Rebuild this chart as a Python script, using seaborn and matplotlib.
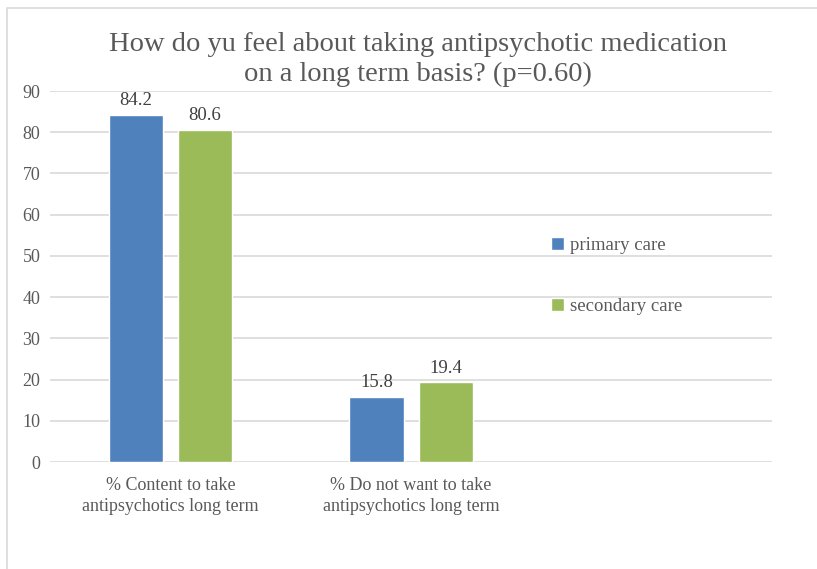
import matplotlib
matplotlib.use("Agg")
import matplotlib.pyplot as plt
import seaborn as sns
import pandas as pd
from matplotlib.patches import Rectangle

categories = ["% Content to take\nantipsychotics long term",
              "% Do not want to take\nantipsychotics long term"]
groups = ["primary care", "secondary care"]
primary_care = [84.2, 15.8]
secondary_care = [80.6, 19.4]
y_ticks = [0, 10, 20, 30, 40, 50, 60, 70, 80, 90]
title = "How do yu feel about taking antipsychotic medication\non a long term basis? (p=0.60)"

df = pd.DataFrame({
    "category": categories * 2,
    "group": [groups[0]] * 2 + [groups[1]] * 2,
    "value": primary_care + secondary_care,
})

sns.set_theme(style="white")
plt.rcParams["font.family"] = ["Liberation Serif", "DejaVu Serif"]
text_color = "#595959"
grid_color = "#D9D9D9"
palette = {"primary care": "#4F81BD", "secondary care": "#9BBB59"}

fig = plt.figure(figsize=(8.17, 5.69), dpi=100)
ax = fig.add_axes([0.0612, 0.188, 0.884, 0.652])

sns.barplot(data=df, x="category", y="value", hue="group", order=categories,
            hue_order=groups, palette=palette, width=0.575, gap=0.217,
            saturation=1, ax=ax, legend=True)

for container in ax.containers:
    ax.bar_label(container, fmt="%.1f", padding=4, fontsize=13.5, color="#404040")

ax.set_xlim(-0.5, 2.5)
ax.set_ylim(0, 90)
ax.set_yticks(y_ticks)
ax.yaxis.grid(True, color=grid_color, linewidth=1.2)
ax.set_axisbelow(True)
for s in ax.spines.values():
    s.set_visible(False)
ax.tick_params(axis="both", length=0, labelsize=13, labelcolor=text_color)
ax.tick_params(axis="y", pad=7)
ax.tick_params(axis="x", pad=11)
for lbl in ax.get_xticklabels():
    lbl.set_linespacing(1.3)
ax.set_xlabel("")
ax.set_ylabel("")

leg = ax.legend(loc="upper left", bbox_to_anchor=(0.67, 0.652), frameon=False,
                fontsize=13.5, handlelength=0.7, handleheight=0.7,
                handletextpad=0.3, labelspacing=2.35)
for t in leg.get_texts():
    t.set_color(text_color)

fig.text(0.512, 0.895, title, ha="center", va="center", fontsize=20.5,
         color=text_color, linespacing=1.27)

fig.patches.append(Rectangle((7 / 817, -0.1), 1.1, (569 - 8) / 569 + 0.1,
                             transform=fig.transFigure, fill=False,
                             edgecolor="#D9D9D9", linewidth=1.2))

fig.savefig("out.png", dpi=100)
